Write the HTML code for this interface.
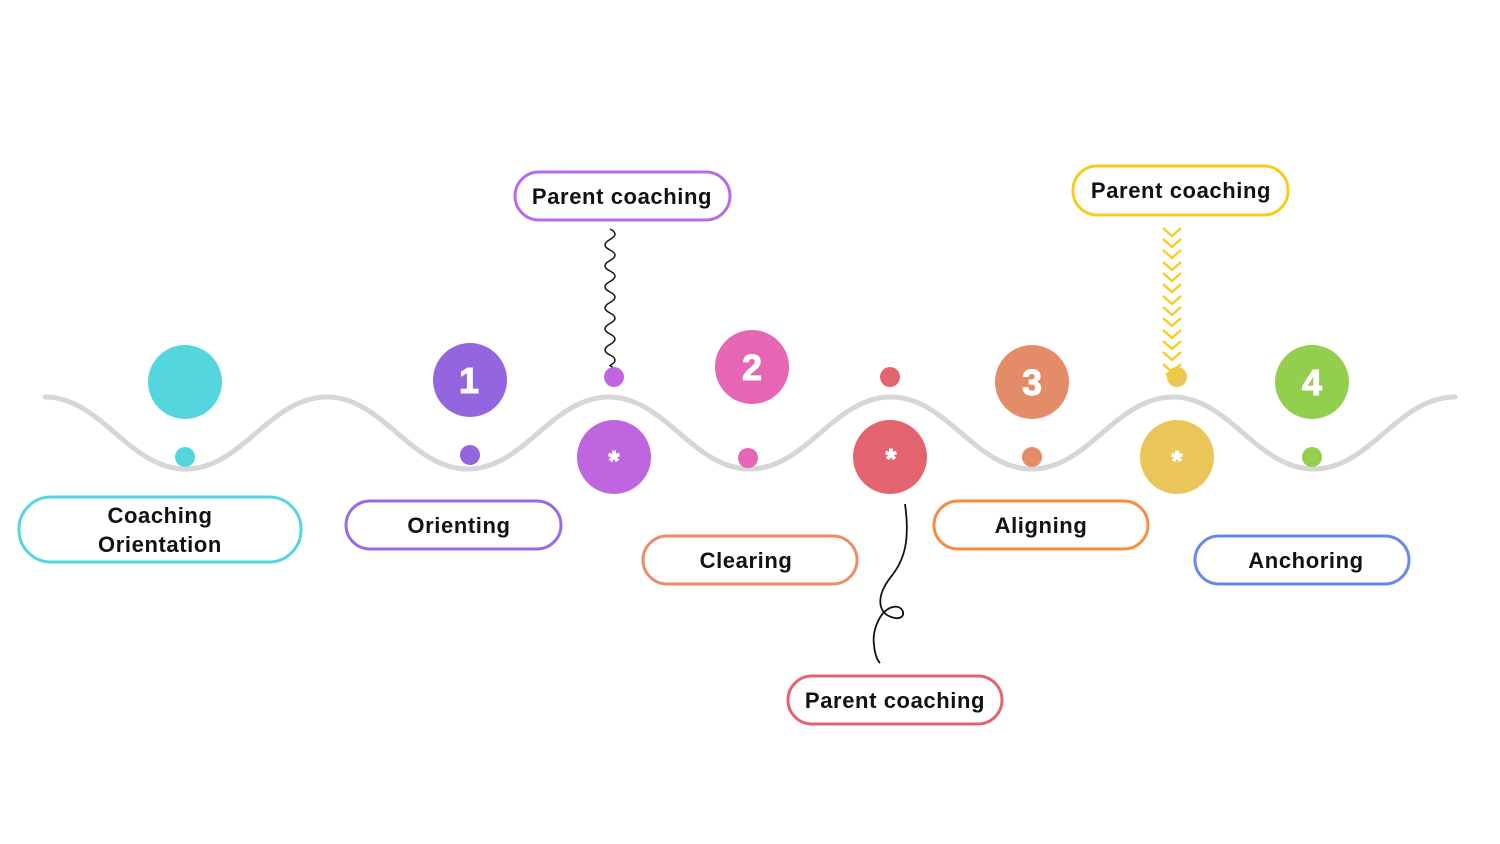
<!DOCTYPE html>
<html><head><meta charset="utf-8"><style>
html,body{margin:0;padding:0;background:#fff;}
svg{display:block;}
text{font-family:"Liberation Sans",sans-serif;font-weight:bold;}
</style></head><body>
<svg width="1500" height="844" viewBox="0 0 1500 844" xmlns="http://www.w3.org/2000/svg">
<path d="M45,397 C101,397 129,469 186,469 C242,469 270,397 327,397 C383,397 411,469 468,469 C524,469 552,397 609,397 C665,397 693,469 750,469 C806,469 834,397 891,397 C947,397 975,469 1032,469 C1088,469 1116,397 1173,397 C1229,397 1257,469 1314,469 C1370,469 1398,397 1455,397" fill="none" stroke="#d6d6d8" stroke-width="5" stroke-linecap="round"/>

<!-- squiggle -->
<path d="M610,229 q10,5 0,10.5 t0,10.5 t0,10.5 t0,10.5 t0,10.5 t0,10.5 t0,10.5 t0,10.5 t0,10.5 t0,10.5 t0,10.5 t0,10.5 t0,10.5 q10,6 0,14" fill="none" stroke="#111" stroke-width="1.5"/>

<!-- big circles -->
<circle cx="185" cy="382" r="37" fill="#55d6df"/>
<circle cx="470" cy="380" r="37" fill="#9366e0"/>
<circle cx="614" cy="457" r="37" fill="#c065e0"/>
<circle cx="752" cy="367" r="37" fill="#e466b4"/>
<circle cx="890" cy="457" r="37" fill="#e3646f"/>
<circle cx="1032" cy="382" r="37" fill="#e48b67"/>
<circle cx="1177" cy="457" r="37" fill="#eac559"/>
<circle cx="1312" cy="382" r="37" fill="#93cf4f"/>
<!-- small dots -->
<circle cx="185" cy="457" r="10" fill="#55d6df"/>
<circle cx="470" cy="455" r="10" fill="#9366e0"/>
<circle cx="614" cy="377" r="10" fill="#c065e0"/>
<circle cx="748" cy="458" r="10" fill="#e466b4"/>
<circle cx="890" cy="377" r="10" fill="#e3646f"/>
<circle cx="1032" cy="457" r="10" fill="#e48b67"/>
<circle cx="1177" cy="377" r="10" fill="#eac559"/>
<circle cx="1312" cy="457" r="10" fill="#93cf4f"/>

<!-- numbers -->
<g fill="#fff" font-size="36" text-anchor="middle" stroke="#fff" stroke-width="1">
<text x="469" y="393">1</text>
<text x="752" y="380">2</text>
<text x="1032" y="395">3</text>
<text x="1312" y="395">4</text>
</g>
<g fill="#fff" font-size="28" text-anchor="middle" stroke="#fff" stroke-width="1">
<text x="614" y="470">*</text>
<text x="891" y="468">*</text>
<text x="1177" y="470">*</text>
</g>

<!-- chevrons -->
<g fill="none" stroke="#f7cc1a" stroke-width="2.2">
<polyline points="1163,228 1172,236 1181,228"/>
<polyline points="1163,239 1172,247 1181,239"/>
<polyline points="1163,250 1172,258 1181,250"/>
<polyline points="1163,262 1172,270 1181,262"/>
<polyline points="1163,273 1172,281 1181,273"/>
<polyline points="1163,284 1172,292 1181,284"/>
<polyline points="1163,296 1172,304 1181,296"/>
<polyline points="1163,307 1172,315 1181,307"/>
<polyline points="1163,318 1172,326 1181,318"/>
<polyline points="1163,330 1172,338 1181,330"/>
<polyline points="1163,341 1172,349 1181,341"/>
<polyline points="1163,352 1172,360 1181,352"/>
<polyline points="1163,364 1172,372 1181,364"/>
<polyline points="1166,373 1172,380 1181,371"/>
</g>

<!-- loop curve -->
<path d="M905,504 C910,540 905,560 890,578 C875,598 878,615 895,618 C908,620 904,604 893,607 C880,610 872,630 874,645 C875,655 877,660 880,663" fill="none" stroke="#111" stroke-width="1.8"/>

<!-- pills -->
<g fill="#fff" stroke-width="3">
<rect x="19" y="497" width="282" height="65" rx="32" stroke="#55d6df"/>
<rect x="346" y="501" width="215" height="48" rx="24" stroke="#9a6ae6"/>
<rect x="643" y="536" width="214" height="48" rx="24" stroke="#ec8c6a"/>
<rect x="934" y="501" width="214" height="48" rx="24" stroke="#f98c3d"/>
<rect x="1195" y="536" width="214" height="48" rx="24" stroke="#6a87ea"/>
<rect x="515" y="172" width="215" height="48" rx="24" stroke="#b96ae6"/>
<rect x="1073" y="166" width="215" height="49" rx="24" stroke="#f7cc1a"/>
<rect x="788" y="676" width="214" height="48" rx="24" stroke="#e3646f"/>
</g>
<g fill="#111" font-size="22" text-anchor="middle" style="letter-spacing:0.6px">
<text x="160" y="523">Coaching</text>
<text x="160" y="552">Orientation</text>
<text x="459" y="533">Orienting</text>
<text x="746" y="568">Clearing</text>
<text x="1041" y="533">Aligning</text>
<text x="1306" y="568">Anchoring</text>
<text x="622" y="204">Parent coaching</text>
<text x="1181" y="198">Parent coaching</text>
<text x="895" y="708">Parent coaching</text>
</g>
</svg>
</body></html>
